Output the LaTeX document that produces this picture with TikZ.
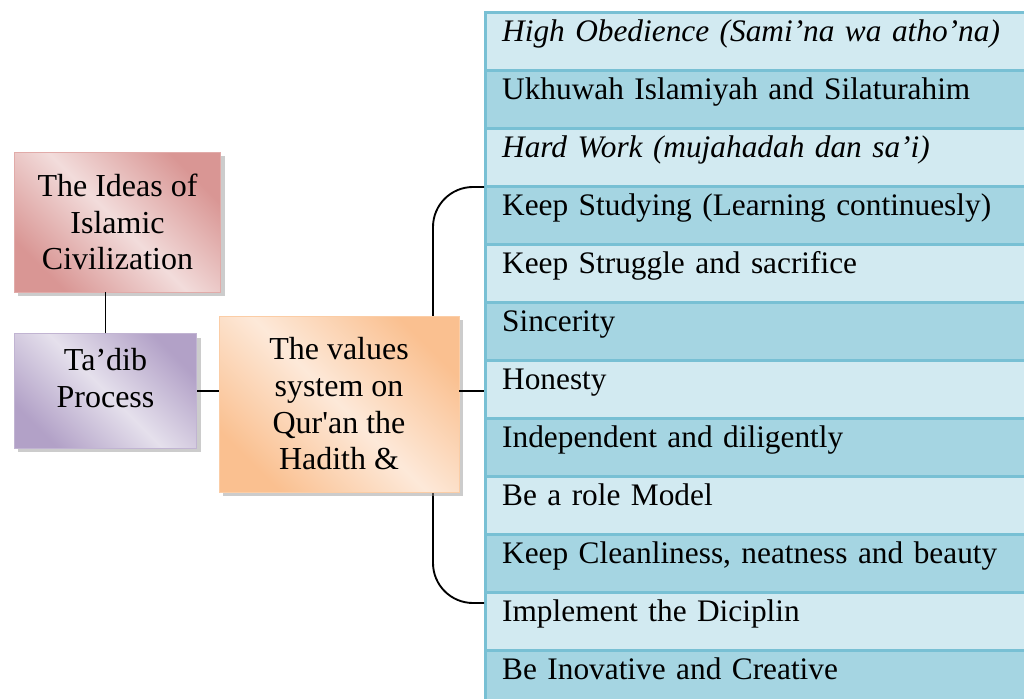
\documentclass[tikz,border=0pt]{standalone}
\usepackage{fontspec}
\setmainfont{Liberation Serif}
\usepackage{tikz}
\usetikzlibrary{shadows}

\definecolor{ideasdark}{RGB}{217,150,148}
\definecolor{ideaslight}{RGB}{242,220,219}
\definecolor{tadibdark}{RGB}{178,161,199}
\definecolor{tadiblight}{RGB}{229,224,236}
\definecolor{valuesdark}{RGB}{250,192,144}
\definecolor{valueslight}{RGB}{253,233,217}
\definecolor{rowlight}{RGB}{210,234,241}
\definecolor{rowdark}{RGB}{165,213,226}
\definecolor{rowline}{RGB}{120,192,212}

\begin{document}
\begin{tikzpicture}[x=0.75pt, y=-0.75pt]
    % Define styles
    \tikzstyle{box} = [rectangle, align=center, font=\fontsize{24}{27.5}\selectfont, text=black, draw=#1dark!80, line width=0.6pt, top color=#1dark, bottom color=#1dark, middle color=#1light, shading angle=-45, drop shadow={shadow xshift=3pt, shadow yshift=-3pt, fill=black!40}]
    \tikzstyle{lightrow} = [rectangle, anchor=north west, minimum width=420pt, minimum height=43.5pt, text width=395pt, align=left, inner xsep=6.75pt, text height=10pt, text depth=10pt, font=\fontsize{23.5}{27}\selectfont, draw=rowline, line width=2.25pt, fill=rowlight]
    \tikzstyle{darkrow} = [lightrow, fill=rowdark]
    \tikzstyle{link} = [line width=1.4pt, black]

    \useasboundingbox (0,0) rectangle (1024,699);

    % Table of values
    \node (obedience) [lightrow] at (484,11) {\itshape High Obedience (Sami’na wa atho’na)};
    \node (ukhuwah) [darkrow] at (484,69) {Ukhuwah Islamiyah and Silaturahim};
    \node (hardwork) [lightrow] at (484,127) {\itshape Hard Work (mujahadah dan sa’i)};
    \node (studying) [darkrow] at (484,185) {Keep Studying (Learning continuesly)};
    \node (struggle) [lightrow] at (484,243) {Keep Struggle and sacrifice};
    \node (sincerity) [darkrow] at (484,301) {Sincerity};
    \node (honesty) [lightrow] at (484,359) {Honesty};
    \node (independent) [darkrow] at (484,417) {Independent and diligently};
    \node (rolemodel) [lightrow] at (484,475) {Be a role Model};
    \node (clean) [darkrow] at (484,533) {Keep Cleanliness, neatness and beauty};
    \node (disciplin) [lightrow] at (484,591) {Implement the Diciplin};
    \node (creative) [darkrow] at (484,649) {Be Inovative and Creative};

    % Bracket (runs behind the values box)
    \draw [link, rounded corners=30pt] ([yshift=-1.5pt]studying.north west) -| ([xshift=-38.25pt, yshift=-9pt]disciplin.north west) -- ([yshift=-9pt]disciplin.north west);

    % Nodes
    \node (ideas) [box=ideas, minimum width=155pt, minimum height=105pt] at (117.5,222) {The Ideas of\\Islamic\\Civilization};
    \node (tadib) [box=tadib, minimum width=137pt, minimum height=86pt, text depth=20pt] at (105.5,391) {Ta’dib\\Process};
    \node (values) [box=values, minimum width=180pt, minimum height=132pt] at (339,404) {The values\\system on\\Qur\textquotesingle an the\\Hadith \&};

    % Lines
    \draw [link] (tadib.north) -- (tadib.north |- ideas.south);
    \draw [link] (tadib.east) -- (tadib -| values.west);
    \draw [link] (values.east |- tadib) -- (tadib -| studying.west);
\end{tikzpicture}
\end{document}
